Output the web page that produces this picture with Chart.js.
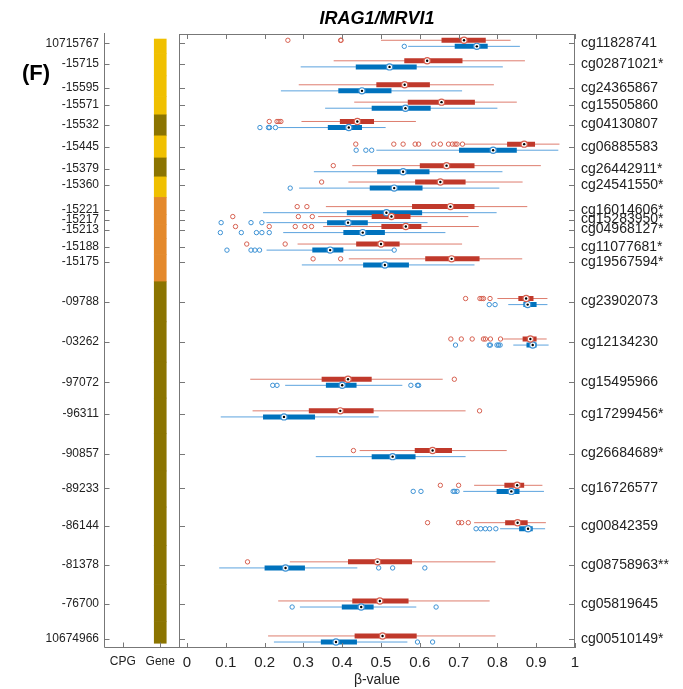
<!DOCTYPE html>
<html><head><meta charset="utf-8">
<script src="https://cdn.jsdelivr.net/npm/chart.js@4.4.1/dist/chart.umd.min.js"></script>
<style>
html,body{margin:0;padding:0;background:#fff;}
#wrap{position:relative;width:683px;height:689px;overflow:hidden;}
canvas{position:absolute;left:0;top:0;}
</style></head><body>
<div id="wrap"><canvas id="leftPanel" width="683" height="689"></canvas><canvas id="mainPanel" width="683" height="689"></canvas></div>
<script>
// ---------------- data ----------------
const chartTitle = 'IRAG1/MRVI1';
const panelTag = '(F)';
const positionLabels = ['10715767','-15715','-15595','-15571','-15532','-15445','-15379','-15360','-15221','-15217','-15213','-15188','-15175','-09788','-03262','-97072','-96311','-90857','-89233','-86144','-81378','-76700','10674966'];
const positions = [10715767,10715715,10715595,10715571,10715532,10715445,10715379,10715360,10715221,10715217,10715213,10715188,10715175,10709788,10703262,10697072,10696311,10690857,10689233,10686144,10681378,10676700,10674966];
const probes = ['cg11828741','cg02871021*','cg24365867','cg15505860','cg04130807','cg06885583','cg26442911*','cg24541550*','cg16014606*','cg15283950*','cg04968127*','cg11077681*','cg19567594*','cg23902073','cg12134230','cg15495966','cg17299456*','cg26684689*','cg16726577','cg00842359','cg08758963**','cg05819645','cg00510149*'];
const geneRegion = ['A','A','A','A','B','A','B','A','C','C','C','C','C','B','B','B','B','B','B','B','B','B','B'];
const panelColumns = ['CPG','Gene'];
const xTickValues = [0,0.1,0.2,0.3,0.4,0.5,0.6,0.7,0.8,0.9,1];

// red group
const redLow    = [0.500,0.378,0.288,0.431,0.295,0.716,0.426,0.416,0.358,0.338,0.351,0.285,0.417,0.800,0.815,0.163,0.169,0.445,0.740,0.740,0.265,0.235,0.209];
const redQ1     = [0.656,0.560,0.488,0.569,0.394,0.825,0.600,0.588,0.580,0.476,0.501,0.436,0.614,0.854,0.865,0.347,0.314,0.587,0.818,0.820,0.415,0.426,0.432];
const redMedian = [0.714,0.619,0.561,0.656,0.439,0.869,0.669,0.653,0.679,0.527,0.564,0.500,0.682,0.874,0.885,0.415,0.395,0.633,0.851,0.852,0.491,0.497,0.504];
const redQ3     = [0.770,0.710,0.626,0.742,0.482,0.897,0.741,0.718,0.741,0.576,0.604,0.548,0.754,0.893,0.901,0.476,0.481,0.683,0.869,0.878,0.580,0.571,0.592];
const redHigh   = [0.834,0.871,0.791,0.850,0.590,0.960,0.912,0.865,0.877,0.725,0.752,0.709,0.864,0.929,0.927,0.659,0.718,0.824,0.916,0.925,0.795,0.780,0.795];
const redOutliers = [
  [0.260,0.396,0.397],[],[],[],[0.212,0.232,0.237,0.242],
  [0.435,0.533,0.557,0.588,0.597,0.636,0.653,0.674,0.684,0.691,0.696,0.710],
  [0.377],[0.347],[0.284,0.309],[0.118,0.287,0.323],[0.125,0.212,0.279,0.304,0.321],[0.154,0.253],[0.325,0.396],
  [0.718,0.755,0.760,0.764,0.781],[0.680,0.707,0.735,0.764,0.769,0.782,0.808],[0.689],[0.754],[0.429],
  [0.653,0.700],[0.620,0.700,0.708,0.725],[0.156],[],[]
];
// blue group
const blueLow    = [0.570,0.293,0.242,0.356,0.235,0.488,0.327,0.289,0.196,0.205,0.248,0.205,0.296,0.828,0.841,0.253,0.087,0.332,0.712,0.807,0.083,0.291,0.224];
const blueQ1     = [0.690,0.435,0.390,0.476,0.363,0.701,0.490,0.471,0.412,0.361,0.403,0.323,0.454,0.867,0.875,0.358,0.196,0.476,0.798,0.856,0.200,0.399,0.345];
const blueMedian = [0.747,0.522,0.451,0.563,0.417,0.789,0.557,0.534,0.514,0.415,0.453,0.369,0.510,0.878,0.891,0.400,0.250,0.530,0.836,0.879,0.254,0.449,0.384];
const blueQ3     = [0.775,0.592,0.527,0.628,0.451,0.850,0.625,0.607,0.606,0.466,0.510,0.403,0.572,0.901,0.901,0.437,0.330,0.589,0.857,0.891,0.304,0.481,0.438];
const blueHigh   = [0.858,0.814,0.709,0.800,0.512,0.957,0.813,0.805,0.798,0.620,0.666,0.530,0.741,0.929,0.932,0.555,0.494,0.718,0.920,0.923,0.439,0.591,0.568];
const blueOutliers = [
  [0.560],[],[],[],[0.188,0.210,0.213,0.228],[0.436,0.461,0.476],[],[0.266],[],
  [0.088,0.165,0.193],[0.086,0.140,0.179,0.193,0.212],[0.103,0.165,0.175,0.187,0.534],[],
  [0.779,0.794],[0.692,0.779,0.782,0.799,0.803,0.807],[0.221,0.232,0.577,0.594,0.597],[],[],
  [0.583,0.603,0.686,0.690,0.696],[0.745,0.757,0.769,0.780,0.796],[0.494,0.530,0.613],[0.271,0.642],[0.594,0.633]
];

// ---------------- styling ----------------
const FONT = '"Liberation Sans", Arial, Helvetica, sans-serif';
const TEXT = '#222';
const AXIS = '#777';
const RED_BOX = 'rgb(192,57,43)', RED_WHISK = 'rgb(222,125,110)', RED_PT = 'rgb(214,96,80)';
const BLUE_BOX = 'rgb(0,114,189)', BLUE_WHISK = 'rgb(92,163,222)', BLUE_PT = 'rgb(60,145,212)';
const geneColors = {A:'rgb(240,192,0)', B:'rgb(139,116,0)', C:'rgb(228,137,44)'};

// row placement on a genomic-distance (log gap) scale
const GAP_BASE = 0.446;
const rowY = [];
positions.forEach((p,i)=>{ rowY.push(i===0 ? 0 : rowY[i-1] + GAP_BASE + Math.log10(positions[i-1]-p)); });
const Y_MIN = -0.98, Y_MAX = rowY[rowY.length-1] + 0.95;
const DODGE = 0.32, END_PAD = 0.45;

function segments(lo, hi, dy){
  const out=[];
  rowY.forEach((y,i)=>{ out.push({x:lo[i],y:y+dy},{x:hi[i],y:y+dy},{x:null,y:null}); });
  return out;
}
function pts(vals, dy){ return rowY.map((y,i)=>({x:vals[i],y:y+dy})); }
function outPts(list, dy){ const o=[]; rowY.forEach((y,i)=>list[i].forEach(v=>o.push({x:v,y:y+dy}))); return o; }

const lineDS = (data,color,w,order)=>({data,showLine:true,borderColor:color,borderWidth:w,pointRadius:0,spanGaps:false,borderCapStyle:'butt',order});

// ---------------- main panel ----------------
const mainPlugin = {
  id:'mainDeco',
  afterDraw(chart){
    const {ctx, chartArea:a, scales} = chart;
    ctx.save();
    ctx.strokeStyle = AXIS; ctx.lineWidth = 1;
    ctx.strokeRect(Math.round(a.left)+0.5, Math.round(a.top)+0.5, Math.round(a.right-a.left)-1, Math.round(a.bottom-a.top)-1);
    ctx.beginPath();
    xTickValues.forEach(v=>{
      const px = Math.round(scales.x.getPixelForValue(v))+0.5;
      ctx.moveTo(px,a.bottom); ctx.lineTo(px,a.bottom-5);
      ctx.moveTo(px,a.top); ctx.lineTo(px,a.top+5);
    });
    rowY.forEach(v=>{
      const py = Math.round(scales.y.getPixelForValue(v))+0.5;
      ctx.moveTo(a.left,py); ctx.lineTo(a.left+6,py);
      ctx.moveTo(a.right,py); ctx.lineTo(a.right-6,py);
    });
    ctx.stroke();
    ctx.fillStyle = '#000';
    ctx.font = 'italic bold 18px ' + FONT;
    ctx.textAlign = 'center'; ctx.textBaseline = 'middle';
    ctx.fillText(chartTitle, (a.left+a.right)/2, 19);
    ctx.restore();
  }
};

new Chart(document.getElementById('mainPanel'), {
  type:'scatter',
  data:{datasets:[
    lineDS(segments(redLow,redHigh,-DODGE), RED_WHISK, 1, 5),
    lineDS(segments(blueLow,blueHigh,DODGE), BLUE_WHISK, 1, 5),
    lineDS(segments(redQ1,redQ3,-DODGE), RED_BOX, 5, 3),
    lineDS(segments(blueQ1,blueQ3,DODGE), BLUE_BOX, 5, 3),
    {data:outPts(redOutliers,-DODGE), pointRadius:2.2, pointBorderWidth:1, pointBorderColor:RED_PT, pointBackgroundColor:'rgba(255,255,255,0)', order:4},
    {data:outPts(blueOutliers,DODGE), pointRadius:2.2, pointBorderWidth:1, pointBorderColor:BLUE_PT, pointBackgroundColor:'rgba(255,255,255,0)', order:4},
    {data:pts(redMedian,-DODGE), pointRadius:3.1, pointBorderWidth:1.2, pointBorderColor:RED_PT, pointBackgroundColor:'#fff', order:2},
    {data:pts(blueMedian,DODGE), pointRadius:3.1, pointBorderWidth:1.2, pointBorderColor:BLUE_PT, pointBackgroundColor:'#fff', order:2},
    {data:pts(redMedian,-DODGE), pointRadius:1.2, pointBorderWidth:0, pointBackgroundColor:'#000', order:1},
    {data:pts(blueMedian,DODGE), pointRadius:1.2, pointBorderWidth:0, pointBackgroundColor:'#000', order:1}
  ]},
  options:{
    responsive:false, animation:false, events:[],
    layout:{padding:{left:179,top:34,right:0,bottom:0}},
    plugins:{legend:{display:false}, tooltip:{enabled:false}, title:{display:false}},
    scales:{
      x:{type:'linear', min:-0.0206, max:1,
        afterBuildTicks:s=>{s.ticks = xTickValues.map(v=>({value:v}));},
        ticks:{autoSkip:false, maxRotation:0, padding:6, color:TEXT, font:{family:FONT,size:15},
          callback:v=> (v===0||v===1) ? String(v) : v.toFixed(1)},
        grid:{display:false, drawTicks:false}, border:{display:false},
        title:{display:true, text:'β-value', color:TEXT, font:{family:FONT,size:14}, padding:{top:0,bottom:0}},
        afterFit:s=>{s.height=41;}
      },
      y:{type:'linear', position:'right', reverse:true, min:Y_MIN, max:Y_MAX,
        afterBuildTicks:s=>{s.ticks = rowY.map(v=>({value:v}));},
        ticks:{autoSkip:false, padding:6, color:TEXT, font:{family:FONT,size:14}, callback:(v,i)=>probes[i]},
        grid:{display:false, drawTicks:false}, border:{display:false},
        afterFit:s=>{s.width=108;}
      }
    }
  },
  plugins:[mainPlugin]
});

// ---------------- left annotation panel ----------------
const geneCells = rowY.map((y,i)=>{
  const top = i===0 ? y-END_PAD : (rowY[i-1]+y)/2;
  const bot = i===rowY.length-1 ? y+END_PAD : (y+rowY[i+1])/2;
  return {x:'Gene', y:[top,bot]};
});
const leftPlugin = {
  id:'leftDeco',
  afterDraw(chart){
    const {ctx, chartArea:a, scales} = chart;
    ctx.save();
    ctx.strokeStyle = AXIS; ctx.lineWidth = 1;
    ctx.beginPath();
    const lx = Math.round(a.left)+0.5, by = Math.round(a.bottom)-0.5;
    ctx.moveTo(lx, a.top-1); ctx.lineTo(lx, by);
    ctx.lineTo(a.right, by);
    rowY.forEach(v=>{
      const py = Math.round(scales.y.getPixelForValue(v))+0.5;
      ctx.moveTo(lx,py); ctx.lineTo(lx+5,py);
    });
    panelColumns.forEach((c,i)=>{
      const px = Math.round(scales.x.getPixelForValue(i))+0.5;
      ctx.moveTo(px,by); ctx.lineTo(px,by-5);
    });
    ctx.stroke();
    ctx.fillStyle = '#000';
    ctx.font = 'bold 22px ' + FONT;
    ctx.textAlign = 'center'; ctx.textBaseline = 'middle';
    ctx.fillText(panelTag, 36, 74);
    ctx.restore();
  }
};
new Chart(document.getElementById('leftPanel'), {
  type:'bar',
  data:{labels:panelColumns, datasets:[{
    data:geneCells,
    backgroundColor:geneRegion.map(r=>geneColors[r]),
    borderWidth:0,
    barThickness:12, grouped:false
  }]},
  options:{
    responsive:false, animation:false, events:[],
    layout:{padding:{left:0,top:34,right:504,bottom:0}},
    plugins:{legend:{display:false}, tooltip:{enabled:false}},
    scales:{
      x:{type:'category', offset:true,
        ticks:{color:TEXT, font:{family:FONT,size:12}, padding:6, maxRotation:0},
        grid:{display:false, drawTicks:false}, border:{display:false},
        afterFit:s=>{s.height=41;}
      },
      y:{type:'linear', reverse:true, min:Y_MIN, max:Y_MAX,
        afterBuildTicks:s=>{s.ticks = rowY.map(v=>({value:v}));},
        ticks:{autoSkip:false, padding:5, color:TEXT, font:{family:FONT,size:12}, callback:(v,i)=>positionLabels[i]},
        grid:{display:false, drawTicks:false}, border:{display:false},
        afterFit:s=>{s.width=104;}
      }
    }
  },
  plugins:[leftPlugin]
});
</script>
</body></html>
